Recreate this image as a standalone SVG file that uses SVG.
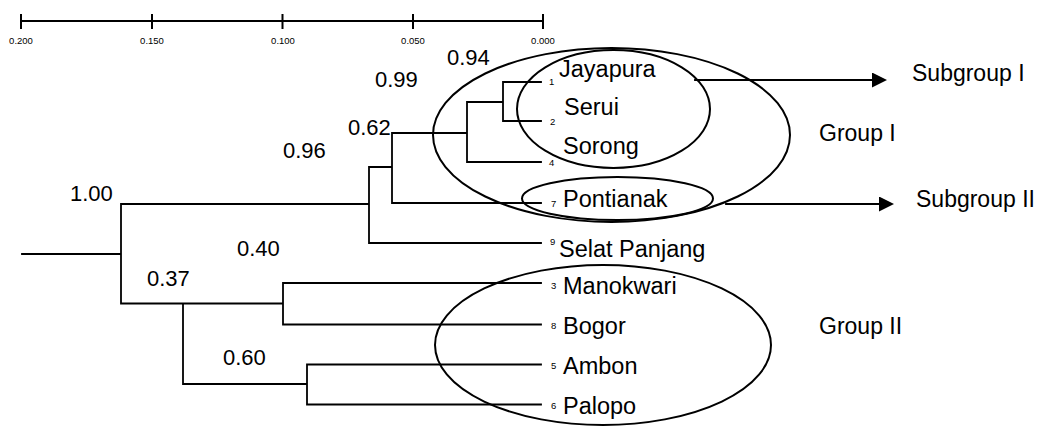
<svg xmlns="http://www.w3.org/2000/svg" width="1040" height="426" viewBox="0 0 1040 426">
<style>
.ln{stroke:#000;stroke-width:1.8;fill:none;stroke-linecap:square}
.el{stroke:#000;stroke-width:2;fill:none}
.sc{stroke:#000;stroke-width:2;fill:none}
.t{font-family:"Liberation Sans",Arial,sans-serif;fill:#000}
.leaf{font-size:23.5px}
.bv{font-size:22px}
.num{font-size:9.5px}
.sl{font-size:9.5px}
.grp{font-size:23px}
</style>
<defs>
<marker id="ah" viewBox="0 0 15 15" refX="0" refY="7.5" markerWidth="15" markerHeight="15" markerUnits="userSpaceOnUse" orient="auto">
<path d="M0,0 L15,7.5 L0,15 Z" fill="#000"/>
</marker>
</defs>
<rect width="1040" height="426" fill="#fff"/>
<g id="scale">
<path class="sc" d="M21,21 H543 M21,14 V29 M152,14 V29 M282.5,14 V29 M413,14 V29 M543,14 V29"/>
<g class="t sl" text-anchor="middle">
<text x="21" y="44">0.200</text>
<text x="152" y="44">0.150</text>
<text x="283" y="44">0.100</text>
<text x="413" y="44">0.050</text>
<text x="543" y="44">0.000</text>
</g>
</g>
<g id="connectors">
<path class="ln" d="M22,254 H121 M121,204 V303.5 M121,204 H369 M369,167 V243 M369,167 H392 M369,243 H541 M392,133 V203 M392,133 H467 M392,203 H541 M467,102 V162 M467,102 H503 M467,162 H541 M503,82 V121 M503,82 H541 M503,121 H541 M121,303.5 H283 M183,303.5 V384 M183,384 H307 M283,283 V324.5 M283,283 H541 M283,324.5 H541 M307,364.5 V404.5 M307,364.5 H541 M307,404.5 H541"/>
<path class="ln" d="M695,80 H872" marker-end="url(#ah)"/>
<path class="ln" d="M726,204 H879" marker-end="url(#ah)"/>
</g>
<g id="branch-values" class="t bv">
<text x="70" y="201">1.00</text>
<text x="237" y="256">0.40</text>
<text x="147" y="286">0.37</text>
<text x="223" y="365">0.60</text>
<text x="283" y="158">0.96</text>
<text x="348" y="135">0.62</text>
<text x="375" y="87">0.99</text>
<text x="447" y="65">0.94</text>
</g>
<g id="leaf-jayapura" class="t"><text class="num" x="549" y="85">1</text><text class="leaf" x="559" y="77">Jayapura</text></g>
<g id="leaf-serui" class="t"><text class="num" x="550" y="125">2</text><text class="leaf" x="564" y="115">Serui</text></g>
<g id="leaf-sorong" class="t"><text class="num" x="549" y="165.5">4</text><text class="leaf" x="563" y="154">Sorong</text></g>
<g id="leaf-pontianak" class="t"><text class="num" x="551" y="207">7</text><text class="leaf" x="563" y="207">Pontianak</text></g>
<g id="leaf-selat" class="t"><text class="num" x="550" y="245">9</text><text class="leaf" x="559" y="257">Selat Panjang</text></g>
<g id="leaf-manokwari" class="t"><text class="num" x="551" y="289">3</text><text class="leaf" x="563" y="294">Manokwari</text></g>
<g id="leaf-bogor" class="t"><text class="num" x="551" y="329">8</text><text class="leaf" x="563" y="334">Bogor</text></g>
<g id="leaf-ambon" class="t"><text class="num" x="551" y="369">5</text><text class="leaf" x="563" y="374">Ambon</text></g>
<g id="leaf-palopo" class="t"><text class="num" x="551" y="409">6</text><text class="leaf" x="563" y="414">Palopo</text></g>
<g id="group-1"><ellipse class="el" cx="611.5" cy="135" rx="178.5" ry="87"/><text class="t grp" x="819" y="141">Group I</text></g>
<g id="subgroup-1"><ellipse class="el" cx="613.5" cy="109" rx="96.5" ry="59"/><text class="t grp" x="912" y="81">Subgroup I</text></g>
<g id="subgroup-2"><ellipse class="el" cx="617.5" cy="198.5" rx="95.5" ry="21.5"/><text class="t grp" x="916" y="207">Subgroup II</text></g>
<g id="group-2"><ellipse class="el" cx="603" cy="345" rx="168" ry="80"/><text class="t grp" x="819" y="334">Group II</text></g>
</svg>
